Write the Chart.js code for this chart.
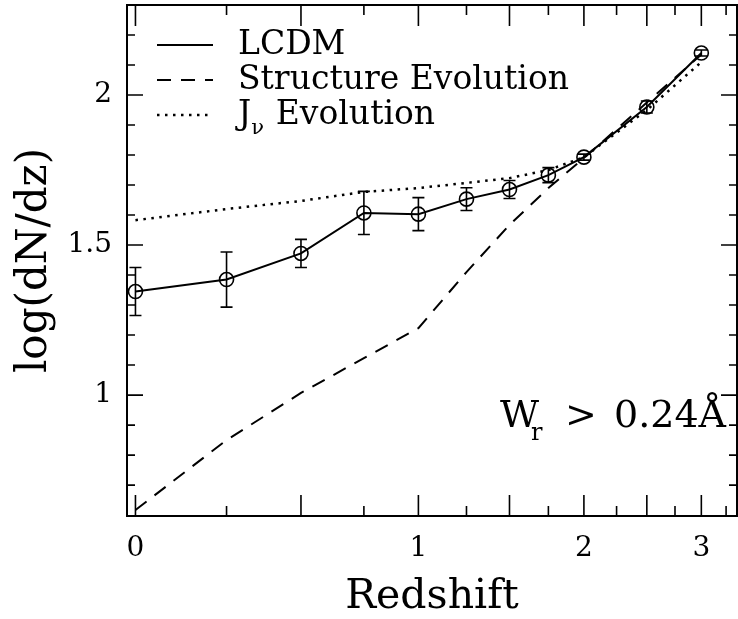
<!DOCTYPE html>
<html>
<head>
<meta charset="utf-8">
<script src="https://cdn.jsdelivr.net/npm/chart.js@4.4.1/dist/chart.umd.min.js"></script>
<style>
  html, body { margin: 0; padding: 0; background: #fff; overflow: hidden; }
  #wrap { width: 738px; height: 619px; }
  canvas { display: block; }
</style>
</head>
<body>
<div id="wrap"><canvas id="dndzChart"></canvas></div>
<script>
// redshift bins and the three curves
const redshift = [0, 0.25, 0.5, 0.75, 1, 1.25, 1.5, 1.75, 2, 2.5, 3];
const lcdm = [1.345, 1.385, 1.472, 1.607, 1.603, 1.653, 1.685, 1.733, 1.793, 1.96, 2.14];
const lcdmErr = [0.08, 0.092, 0.047, 0.072, 0.055, 0.038, 0.03, 0.025, 0.01, 0.02, 0.01];
const structureEvol = [0.617, 0.85, 1.007, 1.123, 1.223, 1.41, 1.567, 1.69, 1.79, 1.975, 2.135];
const jnuEvol = [1.583, 1.62, 1.647, 1.677, 1.69, 1.707, 1.723, 1.75, 1.793, 1.95, 2.11];

// axis ticks (x in redshift, drawn on a log(1+z) axis)
const xMajorTicks = [0, 0.5, 1, 1.5, 2, 2.5, 3];
const xMinorTicks = [0.25, 0.75, 1.25, 1.75, 2.25, 2.75, 3.25];
const xLabelTicks = [0, 1, 2, 3];
const yMajorTicks = [1, 1.5, 2];
const yMinorTicks = [0.7, 0.8, 0.9, 1.1, 1.2, 1.3, 1.4, 1.6, 1.7, 1.8, 1.9, 2.1, 2.2];

const serif = "'DejaVu Serif', serif";

const toX = z => Math.log10(1 + z);
const pts = ys => redshift.map((z, i) => ({ x: toX(z), y: ys[i] }));

// frame, inward ticks on all four sides, error bars, legend and the Wr note
const framePlugin = {
  id: 'frame',
  afterDatasetsDraw(chart) {
    const { ctx, chartArea: a, scales } = chart;
    const xs = scales.x, ys = scales.y;
    ctx.save();
    ctx.strokeStyle = '#000';
    ctx.lineWidth = 2;
    ctx.setLineDash([]);
    ctx.strokeRect(a.left, a.top, a.right - a.left, a.bottom - a.top);

    ctx.lineWidth = 1.6;
    ctx.beginPath();
    const xTick = (z, len) => {
      const px = xs.getPixelForValue(toX(z));
      ctx.moveTo(px, a.bottom); ctx.lineTo(px, a.bottom - len);
      ctx.moveTo(px, a.top); ctx.lineTo(px, a.top + len);
    };
    const yTick = (v, len) => {
      const py = ys.getPixelForValue(v);
      ctx.moveTo(a.left, py); ctx.lineTo(a.left + len, py);
      ctx.moveTo(a.right, py); ctx.lineTo(a.right - len, py);
    };
    xMajorTicks.forEach(z => xTick(z, 21));
    xMinorTicks.forEach(z => xTick(z, 10));
    yMajorTicks.forEach(v => yTick(v, 16));
    yMinorTicks.forEach(v => yTick(v, 8));
    ctx.stroke();

    // error bars on the LCDM points
    ctx.lineWidth = 1.6;
    ctx.beginPath();
    redshift.forEach((z, i) => {
      const px = xs.getPixelForValue(toX(z));
      const top = ys.getPixelForValue(lcdm[i] + lcdmErr[i]);
      const bot = ys.getPixelForValue(lcdm[i] - lcdmErr[i]);
      ctx.moveTo(px, top); ctx.lineTo(px, bot);
      ctx.moveTo(px - 6, top); ctx.lineTo(px + 6, top);
      ctx.moveTo(px - 6, bot); ctx.lineTo(px + 6, bot);
    });
    ctx.stroke();

    // legend
    const rows = [45, 80, 115];
    chart.data.datasets.forEach((ds, i) => {
      const y = rows[i];
      ctx.lineWidth = ds.borderWidth;
      ctx.setLineDash(ds.borderDash || []);
      ctx.beginPath();
      ctx.moveTo(157, y); ctx.lineTo(213, y);
      ctx.stroke();
      ctx.setLineDash([]);
      ctx.fillStyle = '#000';
      ctx.textBaseline = 'middle';
      ctx.textAlign = 'left';
      ctx.font = '33px ' + serif;
      if (ds.label.startsWith('J\u03bd')) {
        ctx.fillText('J', 238, y);
        const jw = ctx.measureText('J').width;
        ctx.font = '21px ' + serif;
        ctx.fillText('\u03bd', 238 + jw, y + 14);
        ctx.font = '33px ' + serif;
        ctx.fillText(ds.label.slice(2), 238 + jw + 14, y);
      } else {
        ctx.fillText(ds.label, 238, y);
      }
    });

    // W_r > 0.24 A label
    ctx.textBaseline = 'alphabetic';
    const base = 427;
    ctx.font = '38px ' + serif;
    ctx.fillText('W', 500, base);
    ctx.font = '24px ' + serif;
    ctx.fillText('r', 531, base + 13);
    ctx.font = '38px ' + serif;
    ctx.fillText('>', 565, base);
    ctx.fillText('0.24\u00c5', 614, base);
    ctx.restore();
  }
};

new Chart(document.getElementById('dndzChart'), {
  type: 'line',
  data: {
    datasets: [
      {
        label: 'LCDM',
        data: pts(lcdm),
        borderColor: '#000',
        borderWidth: 2,
        pointRadius: 7,
        pointBorderWidth: 1.6,
        pointBorderColor: '#000',
        pointBackgroundColor: 'rgba(0,0,0,0)',
        tension: 0
      },
      {
        label: 'Structure Evolution',
        data: pts(structureEvol),
        borderColor: '#000',
        borderWidth: 2,
        borderDash: [14, 10],
        pointRadius: 0,
        tension: 0
      },
      {
        label: 'J\u03bd Evolution',
        data: pts(jnuEvol),
        borderColor: '#000',
        borderWidth: 2.5,
        borderDash: [2.5, 5.5],
        pointRadius: 0,
        tension: 0
      }
    ]
  },
  options: {
    responsive: true,
    maintainAspectRatio: false,
    animation: false,
    layout: { autoPadding: false, padding: { top: 5, right: 1, left: 0, bottom: 0 } },
    plugins: { legend: { display: false }, tooltip: { enabled: false } },
    scales: {
      x: {
        type: 'linear',
        min: -0.009,
        max: 0.64,
        grid: { display: false, drawTicks: false },
        border: { display: false },
        afterBuildTicks: s => { s.ticks = xLabelTicks.map(z => ({ value: toX(z) })); },
        afterFit: s => { s.height = 103; s.paddingLeft = 0; s.paddingRight = 0; },
        ticks: {
          autoSkip: false,
          maxRotation: 0,
          padding: 16,
          color: '#000',
          font: { family: serif, size: 28 },
          callback: (v, i) => String(xLabelTicks[i])
        },
        title: {
          display: true,
          text: 'Redshift',
          color: '#000',
          font: { family: serif, size: 41 },
          padding: { top: 0, bottom: -3 }
        }
      },
      y: {
        type: 'linear',
        min: 0.597,
        max: 2.3,
        grid: { display: false, drawTicks: false },
        border: { display: false },
        afterBuildTicks: s => { s.ticks = yMajorTicks.map(v => ({ value: v })); },
        afterFit: s => { s.width = 127; s.paddingTop = 0; s.paddingBottom = 0; },
        ticks: {
          padding: 15,
          color: '#000',
          font: { family: serif, size: 28 },
          callback: v => String(v)
        },
        title: {
          display: true,
          text: 'log(dN/dz)',
          color: '#000',
          font: { family: serif, size: 42 },
          padding: { top: 10, bottom: 10 }
        }
      }
    }
  },
  plugins: [framePlugin]
});
</script>
</body>
</html>
